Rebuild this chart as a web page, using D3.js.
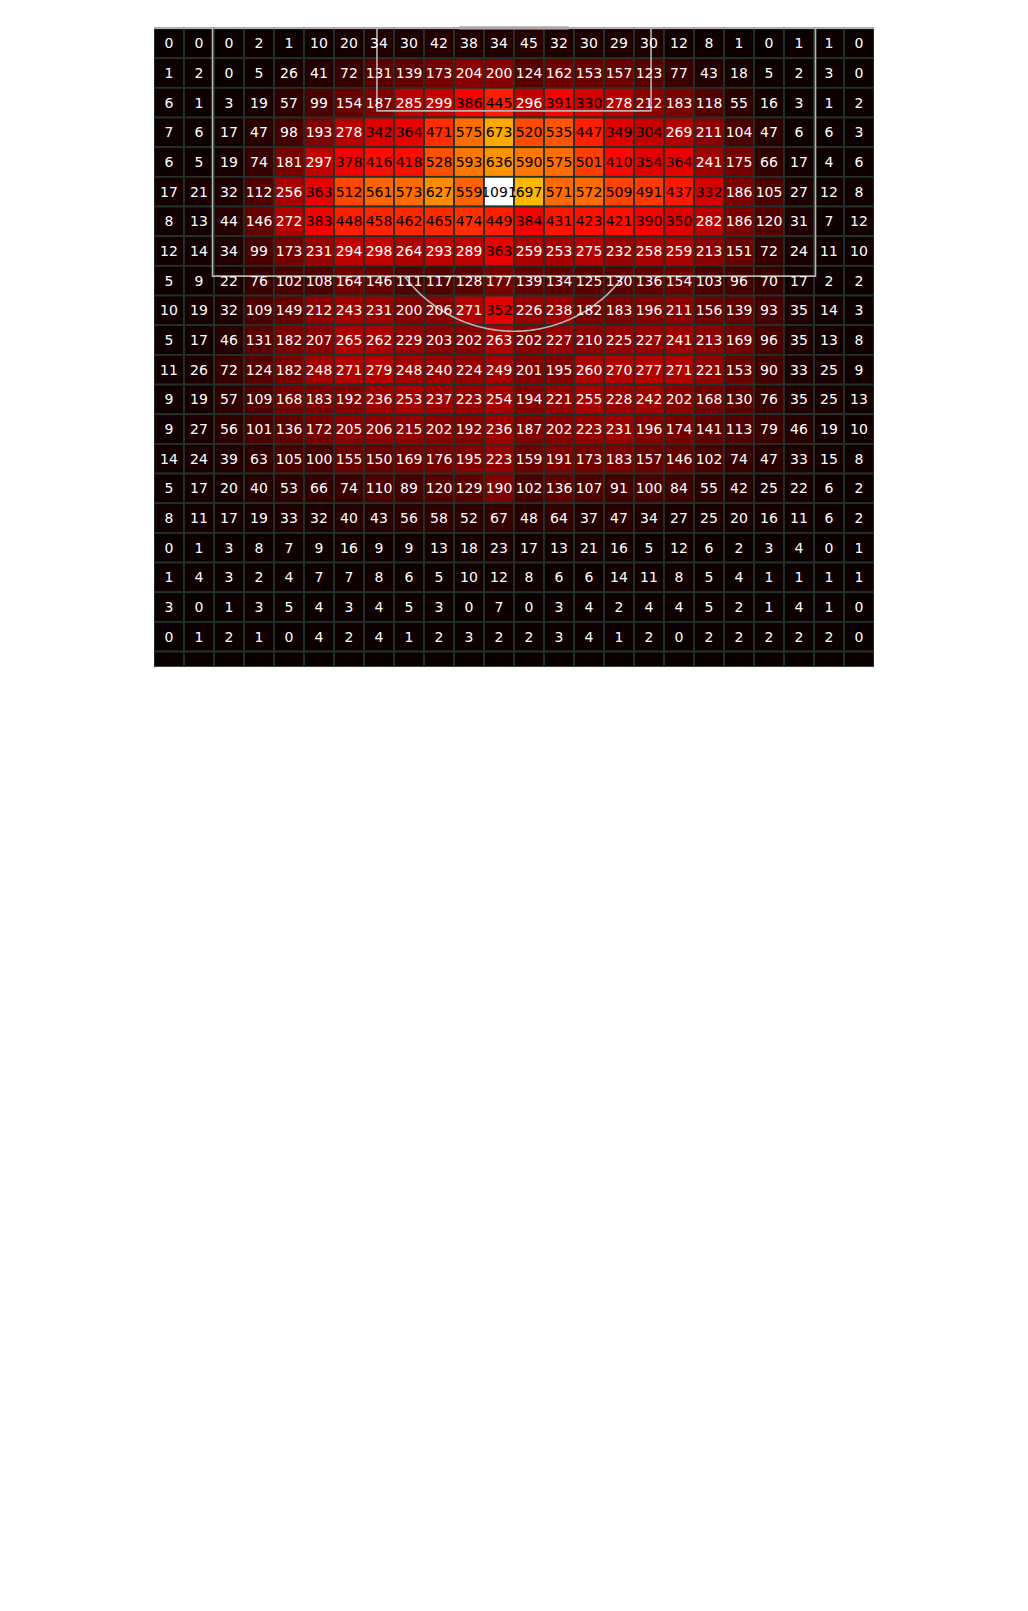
<!DOCTYPE html>
<html>
<head>
<meta charset="utf-8">
<script src="https://cdn.jsdelivr.net/npm/d3@7"></script>
<style>
  html, body { margin: 0; padding: 0; background: #ffffff; }
  svg { display: block; }
</style>
</head>
<body>
<svg id="chart" width="1028" height="1611"></svg>
<script>
// ---- Data: binned counts, one array per row (top of pitch = goal end) ----
const row00 = [0,0,0,2,1,10,20,34,30,42,38,34,45,32,30,29,30,12,8,1,0,1,1,0];
const row01 = [1,2,0,5,26,41,72,131,139,173,204,200,124,162,153,157,123,77,43,18,5,2,3,0];
const row02 = [6,1,3,19,57,99,154,187,285,299,386,445,296,391,330,278,212,183,118,55,16,3,1,2];
const row03 = [7,6,17,47,98,193,278,342,364,471,575,673,520,535,447,349,304,269,211,104,47,6,6,3];
const row04 = [6,5,19,74,181,297,378,416,418,528,593,636,590,575,501,410,354,364,241,175,66,17,4,6];
const row05 = [17,21,32,112,256,363,512,561,573,627,559,1091,697,571,572,509,491,437,332,186,105,27,12,8];
const row06 = [8,13,44,146,272,383,448,458,462,465,474,449,384,431,423,421,390,350,282,186,120,31,7,12];
const row07 = [12,14,34,99,173,231,294,298,264,293,289,363,259,253,275,232,258,259,213,151,72,24,11,10];
const row08 = [5,9,22,76,102,108,164,146,111,117,128,177,139,134,125,130,136,154,103,96,70,17,2,2];
const row09 = [10,19,32,109,149,212,243,231,200,206,271,352,226,238,182,183,196,211,156,139,93,35,14,3];
const row10 = [5,17,46,131,182,207,265,262,229,203,202,263,202,227,210,225,227,241,213,169,96,35,13,8];
const row11 = [11,26,72,124,182,248,271,279,248,240,224,249,201,195,260,270,277,271,221,153,90,33,25,9];
const row12 = [9,19,57,109,168,183,192,236,253,237,223,254,194,221,255,228,242,202,168,130,76,35,25,13];
const row13 = [9,27,56,101,136,172,205,206,215,202,192,236,187,202,223,231,196,174,141,113,79,46,19,10];
const row14 = [14,24,39,63,105,100,155,150,169,176,195,223,159,191,173,183,157,146,102,74,47,33,15,8];
const row15 = [5,17,20,40,53,66,74,110,89,120,129,190,102,136,107,91,100,84,55,42,25,22,6,2];
const row16 = [8,11,17,19,33,32,40,43,56,58,52,67,48,64,37,47,34,27,25,20,16,11,6,2];
const row17 = [0,1,3,8,7,9,16,9,9,13,18,23,17,13,21,16,5,12,6,2,3,4,0,1];
const row18 = [1,4,3,2,4,7,7,8,6,5,10,12,8,6,6,14,11,8,5,4,1,1,1,1];
const row19 = [3,0,1,3,5,4,3,4,5,3,0,7,0,3,4,2,4,4,5,2,1,4,1,0];
const row20 = [0,1,2,1,0,4,2,4,1,2,3,2,2,3,4,1,2,0,2,2,2,2,2,0];
const row21 = [0,0,0,0,0,0,0,0,0,0,0,0,0,0,0,0,0,0,0,0,0,0,0,0]; // partly hidden row, values not legible
const rows = [row00,row01,row02,row03,row04,row05,row06,row07,row08,row09,row10,
              row11,row12,row13,row14,row15,row16,row17,row18,row19,row20,row21];

(function () {
// ---- Layout ----
const svg = d3.select("#chart");
const gridLeft = 154, gridRight = 874, gridTop = 28.5, bottomClip = 666.7;
const cellH = 29.67;
const nCols = row00.length, nRows = rows.length;

const x = d3.scaleBand().domain(d3.range(nCols)).range([gridLeft, gridRight]).paddingInner(0);
const y = d3.scaleBand().domain(d3.range(nRows)).range([gridTop, gridTop + nRows * cellH]).paddingInner(0);

const vmax = d3.max(rows.flat());
// matplotlib "hot" colormap (piecewise linear in RGB)
const color = d3.scaleLinear()
  .domain([0, 0.365079 * vmax, 0.746032 * vmax, vmax])
  .range(["#0b0000", "#ff0000", "#ffff00", "#ffffff"])
  .interpolate(d3.interpolateRgb)
  .clamp(true);

svg.append("defs").append("clipPath").attr("id", "clip")
  .append("rect").attr("x", gridLeft).attr("y", 26).attr("width", gridRight - gridLeft).attr("height", bottomClip - 26);

const g = svg.append("g").attr("clip-path", "url(#clip)");

const cells = [];
rows.forEach((r, ri) => r.forEach((v, ci) => cells.push({ri, ci, v})));

g.selectAll("rect.cell").data(cells).join("rect")
  .attr("class", "cell")
  .attr("x", d => x(d.ci))
  .attr("y", d => y(d.ri))
  .attr("width", x.bandwidth())
  .attr("height", y.bandwidth())
  .attr("fill", d => color(d.v))
  .attr("stroke", "#22312b")
  .attr("stroke-width", 1.8);

// ---- Pitch lines (StatsBomb units, vertical, goal at top) ----
const pxPerUnitX = 13.705, pxPerUnitY = 13.77, cx = 514;
const px = d3.scaleLinear().domain([0, 80]).range([cx - 40 * pxPerUnitX, cx + 40 * pxPerUnitX]);
const py = d3.scaleLinear().domain([0, 120]).range([28.3, 28.3 + 120 * pxPerUnitY]);
const lineColor = "#b4b4b4";
const lines = g.append("g").attr("fill", "none").attr("stroke", lineColor).attr("stroke-width", 1.6);

// goal line
lines.append("line").attr("x1", px(-10)).attr("x2", px(90)).attr("y1", py(0)).attr("y2", py(0));
// penalty area
lines.append("path").attr("d", d3.line()([[px(18), py(0)], [px(18), py(18)], [px(62), py(18)], [px(62), py(0)]]));
// six-yard box
lines.append("path").attr("d", d3.line()([[px(30), py(0)], [px(30), py(6)], [px(50), py(6)], [px(50), py(0)]]));
// penalty spot
g.append("circle").attr("cx", px(40)).attr("cy", py(12)).attr("r", 2.2).attr("fill", lineColor);
// penalty arc (outside box)
const dyBox = 18 - 12, rArc = 10;
const halfAng = Math.acos(dyBox / rArc);
const arcPts = d3.range(-halfAng, halfAng + 1e-9, halfAng / 60).map(a =>
  [px(40 + rArc * Math.sin(a)), py(12 + rArc * Math.cos(a))]);
lines.append("path").attr("d", d3.line()(arcPts));
// goal
g.append("line").attr("x1", px(36)).attr("x2", px(44)).attr("y1", py(0) - 0.5).attr("y2", py(0) - 0.5)
  .attr("stroke", "#aaaaaa").attr("stroke-width", 3.2);

// ---- Labels ----
const labelCells = cells.filter(d => y(d.ri) + y.bandwidth() <= bottomClip + 1);
g.selectAll("text.lbl").data(labelCells).join("text")
  .attr("class", "lbl")
  .attr("x", d => x(d.ci) + x.bandwidth() / 2)
  .attr("y", d => y(d.ri) + y.bandwidth() / 2)
  .attr("text-anchor", "middle")
  .attr("dominant-baseline", "central")
  .attr("font-family", "DejaVu Sans, sans-serif")
  .attr("font-size", 14)
  .attr("fill", d => d.v >= 300 ? "#000000" : "#ffffff")
  .text(d => d.v);
})();
</script>
</body>
</html>
